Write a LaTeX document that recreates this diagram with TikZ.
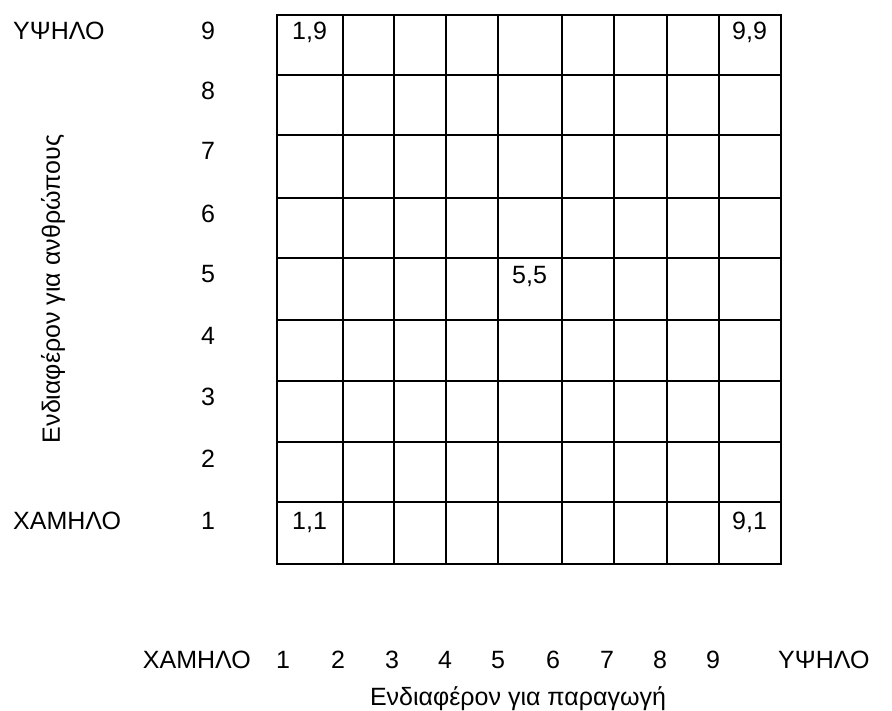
\documentclass[tikz,border=0pt]{standalone}
\usepackage{fontspec}
\setmainfont{Liberation Sans}
\usetikzlibrary{positioning}

\begin{document}
\begin{tikzpicture}[
			x=1pt, y=-1pt,
			gridline/.style={line width=1.6pt, line cap=rect},
			celltext/.style={anchor=base west, inner sep=0pt, font=\fontsize{25}{30}\selectfont},
			rowlabel/.style={anchor=base, inner sep=0pt, font=\fontsize{25}{30}\selectfont},
			collabel/.style={anchor=base, inner sep=0pt, font=\fontsize{25}{30}\selectfont},
			axistitle/.style={inner sep=0pt, font=\fontsize{25}{30}\selectfont}
			]
			\useasboundingbox (0,0) rectangle (892,711);
			
			% Grid
			\foreach \gx in {277,343,394,446,498,562,614,667,719,781}
				\draw[gridline] (\gx,15) -- (\gx,564);
			\foreach \gy in {15,75,135,198,258,320,381,442,502,564}
				\draw[gridline] (277,\gy) -- (781,\gy);
			
			% Cell texts
			\node[celltext] (c19) at (292,40) {1,9};
			\node[celltext] (c99) at (732,40) {9,9};
			\node[celltext] (c55) at (512,284) {5,5};
			\node[celltext] (c11) at (292,529) {1,1};
			\node[celltext] (c91) at (732,529) {9,1};
			
			% Row labels
			\foreach \r/\gy in {9/15,8/75,7/135,6/198,5/258,4/320,3/381,2/442,1/504}
				\node[rowlabel] (row\r) at (208,\gy+25) {\r};
			\node[celltext] (high) at (13,40) {ΥΨΗΛΟ};
			\node[celltext] (low) at (13,529) {ΧΑΜΗΛΟ};
			\node[axistitle, rotate=90] (people) at (53,289) {Ενδιαφέρον για ανθρώπους};
			
			% Column labels
			\foreach \c/\gx in {1/283,2/338,3/392,4/445,5/498,6/553,7/607,8/660,9/713}
				\node[collabel] (col\c) at (\gx,668) {\c};
			\node[celltext, anchor=base east] (lowx) at (251,668) {ΧΑΜΗΛΟ};
			\node[celltext] (highx) at (778,668) {ΥΨΗΛΟ};
			\node[collabel] (production) at (518,705) {Ενδιαφέρον για παραγωγή};
			
		\end{tikzpicture}
\end{document}
